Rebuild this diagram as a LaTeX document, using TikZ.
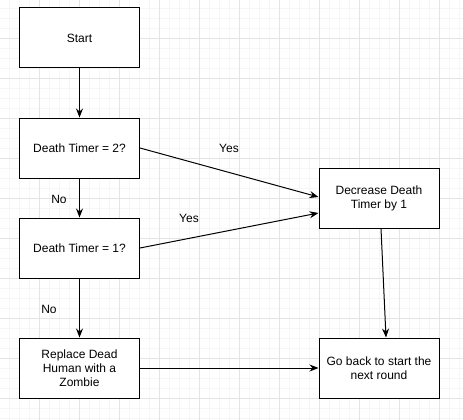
\documentclass[tikz,border=0pt]{standalone}
\usepackage{fontspec}
\setmainfont{Liberation Sans}
\usetikzlibrary{arrows.meta}
\definecolor{gridminor}{HTML}{F6F6F6}
\definecolor{gridmajor}{HTML}{E4E4E4}
\tikzset{
  box/.style={draw, line width=1pt, fill=white, minimum width=120pt, minimum height=60pt,
    align=center, inner sep=2pt, font=\fontsize{12}{14}\selectfont},
  lbl/.style={inner sep=0pt, font=\fontsize{12}{14}\selectfont},
}
\begin{document}
\begin{tikzpicture}[x=1pt,y=-1pt]
      \useasboundingbox (0,0) rectangle (463,420);
      \fill[white] (0,0) rectangle (463,420);
      \foreach \gx in {-1,9,...,469} \draw[gridminor] (\gx,0) -- (\gx,420);
      \foreach \gy in {8,18,...,428} \draw[gridminor] (0,\gy) -- (463,\gy);
      \foreach \gx in {39,79,...,469} \draw[gridmajor] (\gx,0) -- (\gx,420);
      \foreach \gy in {38,78,...,428} \draw[gridmajor] (0,\gy) -- (463,\gy);
      \draw
        (79.5,38) node[box] (start){Start}
        (79.5,148) node[box] (dt2){Death Timer = 2?}
        (79.5,248) node[box] (dt1){Death Timer = 1?}
        (79.5,368) node[box] (replace){Replace Dead\\Human with a\\Zombie}
        (379,198) node[box] (dec){Decrease Death\\Timer by 1}
        (379,368) node[box] (back){Go back to start the\\next round};
      \draw
        (229,148) node[lbl] (yes2){Yes}
        (189,218) node[lbl] (yes1){Yes}
        (59,199) node[lbl] (no2){No}
        (49,309) node[lbl] (no1){No};
      \begin{scope}[line width=1pt, -{Stealth[length=9pt,width=7pt]}]
        \draw (start) to (dt2);
        \draw (dt2) to (dt1);
        \draw (dt1) to (replace);
        \draw (dt2.east) to ([yshift=1pt]dec.west);
        \draw (dt1.east) to ([yshift=-15pt]dec.west);
        \draw ([xshift=2pt]dec.south) to ([xshift=7pt]back.north);
        \draw (replace) to (back);
      \end{scope}
    \end{tikzpicture}
\end{document}
